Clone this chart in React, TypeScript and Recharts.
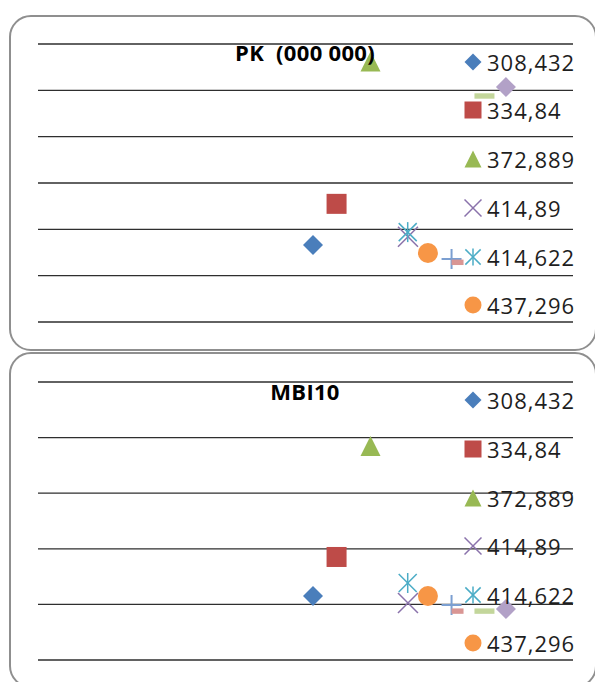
import { ScatterChart, Scatter, XAxis, YAxis, CartesianGrid } from 'recharts';

// x values are the series names (legend labels)
const xValues = [308.432, 334.84, 372.889, 414.89, 414.622, 437.296, 463.8, 470.5, 500.7, 524.8];
const pkValues = [16.6, 25.5, 56.2, 18.4, 19.4, 14.9, 13.6, 12.9, 48.8, 50.7];
const mbiValues = [1151, 1853, 3849, 1025, 1385, 1151, 989, 881, 881, 917];
const pkTicks = [0, 10, 20, 30, 40, 50, 60];
const mbiTicks = [0, 1000, 2000, 3000, 4000, 5000];
const legendLabels = ['308,432', '334,84', '372,889', '414,89', '414,622', '437,296'];

const markers = [
  { kind: 'diamond', color: '#4a7ebb' },
  { kind: 'square', color: '#be4b48' },
  { kind: 'triangle', color: '#98b954' },
  { kind: 'x', color: '#8a72ab' },
  { kind: 'star', color: '#4bacc6' },
  { kind: 'circle', color: '#f79646' },
  { kind: 'plus', color: '#7b9fd1' },
  { kind: 'dashShort', color: '#d99694' },
  { kind: 'dashLong', color: '#c3d69b' },
  { kind: 'diamond', color: '#b2a1c7' },
];

const FONT = '"Open Sans", sans-serif';

function Marker({ kind, color, cx, cy, s }: { kind: string; color: string; cx: number; cy: number; s: number }) {
  const h = s / 2;
  switch (kind) {
    case 'diamond':
      return <polygon points={`${cx},${cy - h} ${cx + h},${cy} ${cx},${cy + h} ${cx - h},${cy}`} fill={color} />;
    case 'square':
      return <rect x={cx - h} y={cy - h} width={s} height={s} fill={color} />;
    case 'triangle':
      return <polygon points={`${cx},${cy - h} ${cx + h},${cy + h} ${cx - h},${cy + h}`} fill={color} />;
    case 'x':
      return (
        <g stroke={color} strokeWidth={1.5}>
          <line x1={cx - h} y1={cy - h} x2={cx + h} y2={cy + h} />
          <line x1={cx - h} y1={cy + h} x2={cx + h} y2={cy - h} />
        </g>
      );
    case 'star':
      return (
        <g stroke={color} strokeWidth={1.5}>
          <line x1={cx - h * 0.9} y1={cy - h * 0.9} x2={cx + h * 0.9} y2={cy + h * 0.9} />
          <line x1={cx - h * 0.9} y1={cy + h * 0.9} x2={cx + h * 0.9} y2={cy - h * 0.9} />
          <line x1={cx} y1={cy - h} x2={cx} y2={cy + h} />
        </g>
      );
    case 'circle':
      return <circle cx={cx} cy={cy} r={h} fill={color} />;
    case 'plus':
      return (
        <g stroke={color} strokeWidth={2}>
          <line x1={cx - h} y1={cy} x2={cx + h} y2={cy} />
          <line x1={cx} y1={cy - h} x2={cx} y2={cy + h} />
        </g>
      );
    case 'dashShort':
      return <rect x={cx - s * 0.3} y={cy - s * 0.13} width={s * 0.6} height={s * 0.27} fill={color} />;
    case 'dashLong':
      return <rect x={cx - h} y={cy - s * 0.13} width={s} height={s * 0.27} fill={color} />;
    default:
      return null;
  }
}

function Panel({ title, values, ticks, top, height, margin, titleTop, legendRows }: any) {
  const max = ticks[ticks.length - 1];
  return (
    <>
      <div style={{ position: 'absolute', left: 0, top }}>
        <ScatterChart width={595} height={height} margin={margin}>
          <CartesianGrid vertical={false} stroke="#2e2e2e" strokeWidth={1.3} />
          <XAxis type="number" dataKey="x" domain={[0, 600]} hide />
          <YAxis type="number" dataKey="y" domain={[0, max]} ticks={ticks} hide />
          {markers.map((m, i) => (
            <Scatter
              key={i}
              name={String(xValues[i])}
              data={[{ x: xValues[i], y: values[i] }]}
              isAnimationActive={false}
              shape={(p: any) => <Marker kind={m.kind} color={m.color} cx={p.cx} cy={p.cy} s={20} />}
            />
          ))}
        </ScatterChart>
      </div>
      <div
        style={{
          position: 'absolute', left: 205, width: 200, top: titleTop, textAlign: 'center',
          fontFamily: FONT, fontWeight: 700, fontSize: 22, letterSpacing: 0.3, lineHeight: '22px', whiteSpace: 'pre', color: '#000',
        }}
      >
        {title}
      </div>
      {legendLabels.map((label, i) => (
        <div
          key={i}
          style={{ position: 'absolute', left: 464, top: legendRows[i] - 11, height: 22, display: 'flex', alignItems: 'center' }}
        >
          <svg width={18} height={18} style={{ display: 'block' }}>
            <Marker kind={markers[i].kind} color={markers[i].color} cx={9} cy={9} s={17} />
          </svg>
          <span style={{ fontFamily: FONT, fontSize: 22, letterSpacing: 1, lineHeight: '22px', color: '#1e1e1e', marginLeft: 5 }}>{label}</span>
        </div>
      ))}
    </>
  );
}

export default function App() {
  return (
    <div style={{ position: 'absolute', left: 0, top: 0, width: 595, height: 682, overflow: 'hidden', background: '#fff' }}>
      <div style={{ position: 'absolute', left: 9, top: 15, width: 588, height: 336, border: '2px solid #8f8f8f', borderRadius: 22, boxSizing: 'border-box' }} />
      <div style={{ position: 'absolute', left: 9, top: 352, width: 588, height: 336, border: '2px solid #8f8f8f', borderRadius: 22, boxSizing: 'border-box' }} />
      <Panel
        title={'PK  (000 000)'}
        values={pkValues}
        ticks={pkTicks}
        top={0}
        height={350}
        margin={{ top: 44, right: 22, bottom: 28, left: 38 }}
        titleTop={41}
        legendRows={[62, 110, 159, 208, 257, 305]}
      />
      <Panel
        title={'MBI10'}
        values={mbiValues}
        ticks={mbiTicks}
        top={340}
        height={342}
        margin={{ top: 42, right: 22, bottom: 22, left: 38 }}
        titleTop={380}
        legendRows={[400, 449, 498, 546, 595, 643]}
      />
    </div>
  );
}
